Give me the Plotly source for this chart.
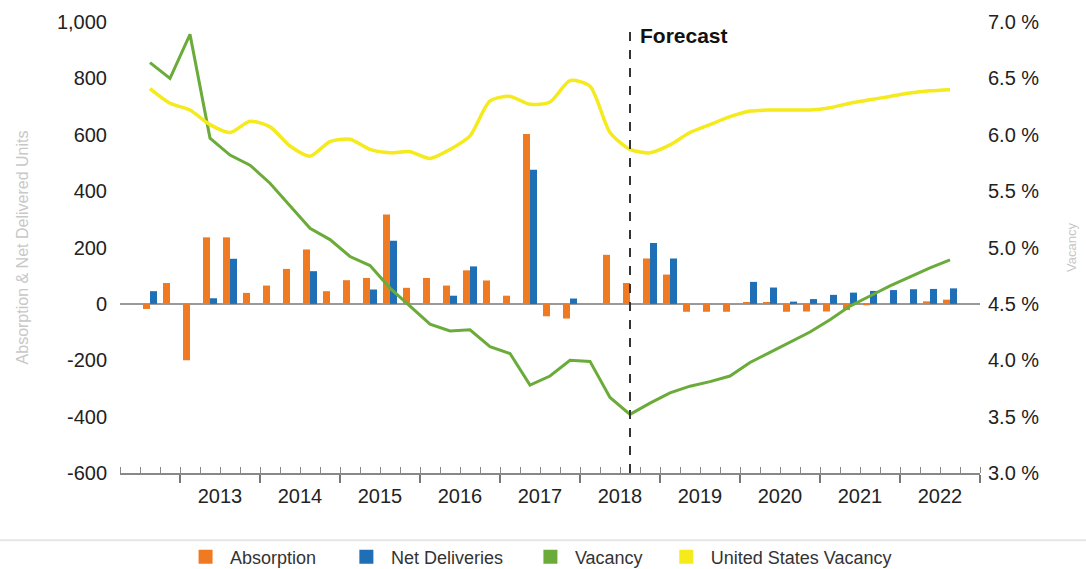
import plotly.graph_objects as go

# ---------------- data ----------------
quarters = [
    "2012 Q3", "2012 Q4",
    "2013 Q1", "2013 Q2", "2013 Q3", "2013 Q4",
    "2014 Q1", "2014 Q2", "2014 Q3", "2014 Q4",
    "2015 Q1", "2015 Q2", "2015 Q3", "2015 Q4",
    "2016 Q1", "2016 Q2", "2016 Q3", "2016 Q4",
    "2017 Q1", "2017 Q2", "2017 Q3", "2017 Q4",
    "2018 Q1", "2018 Q2", "2018 Q3", "2018 Q4",
    "2019 Q1", "2019 Q2", "2019 Q3", "2019 Q4",
    "2020 Q1", "2020 Q2", "2020 Q3", "2020 Q4",
    "2021 Q1", "2021 Q2", "2021 Q3", "2021 Q4",
    "2022 Q1", "2022 Q2", "2022 Q3",
]
absorption = [
    -18, 74,
    -200, 236, 236, 39,
    65, 124, 193, 45,
    84, 92, 317, 57,
    92, 65, 119, 83,
    29, 603, -44, -52,
    0, 174, 74, 161,
    104, -28, -28, -28,
    5, 5, -28, -27,
    -27, -22, -5, 0,
    0, 9, 15,
]
net_deliveries = [
    45, 0,
    0, 20, 160, 0,
    0, 0, 116, 0,
    0, 51, 224, 0,
    0, 29, 133, 0,
    0, 476, 0, 19,
    0, 0, 0, 216,
    161, 0, 0, 0,
    78, 58, 8, 17,
    32, 40, 46, 49,
    52, 53, 55,
]
vacancy = [
    6.64, 6.50,
    6.89, 5.97, 5.82, 5.73,
    5.57, 5.37, 5.17, 5.07,
    4.92, 4.84, 4.64, 4.48,
    4.32, 4.26, 4.27, 4.12,
    4.06, 3.78, 3.86, 4.00,
    3.99, 3.67, 3.52, 3.62,
    3.71, 3.77, 3.81, 3.86,
    3.98, 4.07, 4.16, 4.25,
    4.36, 4.48, 4.57, 4.66,
    4.74, 4.82, 4.89,
]
us_vacancy = [
    6.41, 6.28,
    6.22, 6.09, 6.02, 6.12,
    6.07, 5.90, 5.81, 5.94,
    5.96, 5.87, 5.84, 5.85,
    5.79, 5.87, 5.99, 6.30,
    6.34, 6.27, 6.29, 6.48,
    6.43, 6.02, 5.87, 5.84,
    5.91, 6.02, 6.09, 6.16,
    6.21, 6.22, 6.22, 6.22,
    6.24, 6.28, 6.31, 6.34,
    6.37, 6.39, 6.40,
]
year_labels = ["2013", "2014", "2015", "2016", "2017", "2018", "2019", "2020", "2021", "2022"]
forecast_quarter = "2018 Q3"
series_names = ["Absorption", "Net Deliveries", "Vacancy", "United States Vacancy"]
left_ticks = [-600, -400, -200, 0, 200, 400, 600, 800, 1000]
right_ticks = [3.0, 3.5, 4.0, 4.5, 5.0, 5.5, 6.0, 6.5, 7.0]

# ---------------- helpers ----------------
def qpos(label):
    y, q = label.split(" Q")
    return int(y) + (int(q) - 0.5) / 4.0

x = [qpos(q) for q in quarters]
x_start = int(quarters[0][:4]) + 0.25          # axis begins at start of 2012 Q2
x_end = int(year_labels[-1]) + 1.0              # axis ends at start of 2023
year_centers = [int(y) + 0.5 for y in year_labels]
forecast_x = qpos(forecast_quarter)

ORANGE = "#F07A22"
BLUE = "#1E6FB6"
GREEN = "#6AAB3A"
YELLOW = "#F4EA1C"
colors = [ORANGE, BLUE, GREEN, YELLOW]

FONT = "Liberation Sans, Arial, sans-serif"

fig = go.Figure()

fig.add_trace(go.Bar(x=x, y=absorption, name=series_names[0], marker_color=ORANGE,
                     marker_line_width=0, showlegend=False, xaxis="x", yaxis="y"))
fig.add_trace(go.Bar(x=x, y=net_deliveries, name=series_names[1], marker_color=BLUE,
                     marker_line_width=0, showlegend=False, xaxis="x", yaxis="y"))
fig.add_trace(go.Scatter(x=x, y=vacancy, name=series_names[2], mode="lines",
                         line=dict(color=GREEN, width=3), showlegend=False,
                         xaxis="x", yaxis="y2"))
fig.add_trace(go.Scatter(x=x, y=us_vacancy, name=series_names[3], mode="lines",
                         line=dict(color=YELLOW, width=3.5, shape="spline", smoothing=0.7),
                         showlegend=False, xaxis="x", yaxis="y2"))

# legend entries (square swatches), each in its own legend box
legend_ids = ["legend", "legend2", "legend3", "legend4"]
legend_x = [0.071, 0.258, 0.472, 0.630]
for nm, c, lid in zip(series_names, colors, legend_ids):
    fig.add_trace(go.Scatter(x=[None], y=[None], mode="markers", name=nm,
                             marker=dict(symbol="square", size=14, color=c),
                             showlegend=True, legend=lid, xaxis="x2", yaxis="y"))

legend_common = dict(orientation="h", xanchor="left", y=-0.1863, yanchor="middle",
                     bgcolor="rgba(0,0,0,0)", font=dict(size=18, color="#333"),
                     itemwidth=39)
legend_layout = {lid: dict(x=lx, **legend_common) for lid, lx in zip(legend_ids, legend_x)}

fig.update_layout(
    width=1086, height=569,
    margin=dict(l=120, r=106, t=22, b=96, autoexpand=False),
    paper_bgcolor="white", plot_bgcolor="white",
    barmode="group", bargap=0.3, bargroupgap=0,
    font=dict(family=FONT, color="#222"),
    xaxis=dict(
        type="linear", range=[x_start, x_end],
        tickmode="linear", tick0=int(year_labels[0]), dtick=1,
        ticks="outside", ticklen=8, tickwidth=2, tickcolor="#777",
        showticklabels=False, showgrid=False, zeroline=False,
        showline=True, linecolor="#888", linewidth=1.5,
        minor=dict(ticks="inside", ticklen=6, tickwidth=1, tickcolor="#888",
                   tick0=x_start, dtick=0.25, showgrid=False),
    ),
    xaxis2=dict(
        overlaying="x", anchor="y", side="bottom",
        range=[x_start, x_end], tickmode="array",
        tickvals=year_centers, ticktext=year_labels,
        ticks="outside", ticklen=5, tickcolor="rgba(0,0,0,0)",
        tickfont=dict(size=20, color="#222"),
        showgrid=False, zeroline=False, showline=False,
    ),
    xaxis3=dict(
        overlaying="x", anchor="y", side="bottom",
        range=[x_start, x_end], tickmode="linear",
        tick0=int(year_labels[0]), dtick=1,
        ticks="inside", ticklen=8, tickwidth=2, tickcolor="#777",
        showticklabels=False, showgrid=False, zeroline=False, showline=False,
    ),
    yaxis=dict(
        range=[left_ticks[0], left_ticks[-1]], tickmode="array", tickvals=left_ticks,
        ticktext=[f"{v:,}" for v in left_ticks], showgrid=False,
        zeroline=True, zerolinecolor="#999", zerolinewidth=1.5,
        showline=False, ticks="outside", ticklen=8, tickcolor="rgba(0,0,0,0)",
        tickfont=dict(size=20, color="#222"),
        title=dict(text="Absorption &amp; Net Delivered Units",
                   font=dict(size=16, color="#c8c8c8"), standoff=24),
    ),
    yaxis2=dict(
        overlaying="y", side="right", anchor="x",
        range=[right_ticks[0], right_ticks[-1]], tickmode="array", tickvals=right_ticks,
        ticktext=[f"{v:.1f} %" for v in right_ticks], showgrid=False, zeroline=False,
        showline=False, ticks="outside", ticklen=3, tickcolor="rgba(0,0,0,0)",
        tickfont=dict(size=20, color="#222"),
        title=dict(text="Vacancy", font=dict(size=13, color="#c8c8c8"), standoff=28),
    ),
    showlegend=True,
    **legend_layout,
)

# forecast divider
fig.add_shape(type="line", xref="x", yref="paper", x0=forecast_x, x1=forecast_x,
              y0=0, y1=0.99, line=dict(color="#333", width=2, dash="dash"))
fig.add_annotation(x=forecast_x, y=0.97, xref="x", yref="paper", text="<b>Forecast</b>",
                   showarrow=False, xanchor="left", yanchor="middle", xshift=8,
                   font=dict(size=21, color="#111", family=FONT))

# legend separator
fig.add_shape(type="line", xref="paper", yref="paper", x0=-0.14, x1=1.13,
              y0=-0.149, y1=-0.149, line=dict(color="#e6e6e6", width=2), layer="below")

fig.write_html("out.html", config={"displayModeBar": False},
               post_script="document.body.style.margin='0';")
